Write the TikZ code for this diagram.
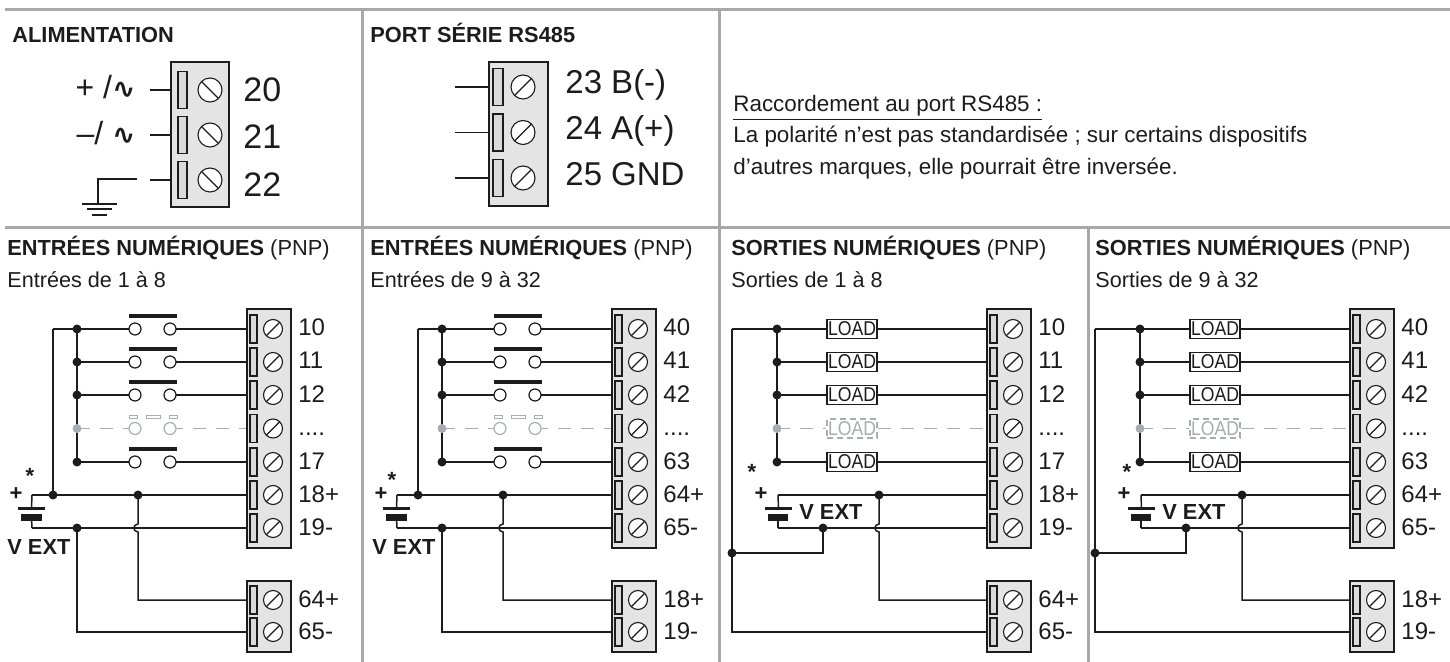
\documentclass[tikz,border=0pt]{standalone}
\usepackage{fontspec}
\setmainfont{Liberation Sans}
\newfontfamily\dejavu{DejaVu Sans}
\usetikzlibrary{backgrounds}
\definecolor{wire}{HTML}{1C1C1C}
\definecolor{framec}{HTML}{A8A8A8}
\definecolor{ghost}{HTML}{A9ADB1}
\definecolor{blockfill}{HTML}{E4E4E4}
\definecolor{slotfill}{HTML}{DADADA}
\tikzset{
  wireline/.style={draw=wire, line width=0.75pt},
  ghostline/.style={draw=ghost, line width=0.75pt, dash pattern=on 6.5pt off 5pt},
  framel/.style={draw=framec, line width=1.5pt},
  blk/.style={draw=wire, fill=blockfill, line width=0.7pt},
  tslot/.style={draw=wire, fill=slotfill, line width=0.55pt},
  screwc/.style={draw=wire, fill=white, line width=0.55pt},
  screwl/.style={draw=wire, line width=0.55pt},
  swbar/.style={draw=wire, line width=2pt},
  gbar/.style={draw=ghost, line width=0.5pt},
  contact/.style={circle, draw=wire, fill=white, line width=0.6pt, minimum size=6pt, inner sep=0pt},
  gcontact/.style={contact, draw=ghost},
  jdot/.style={circle, fill=wire, minimum size=4.5pt, inner sep=0pt},
  gdot/.style={jdot, fill=ghost},
  loadbox/.style={draw=wire, fill=white, line width=0.6pt, minimum width=25pt, minimum height=9.5pt, inner sep=0pt, text=wire, font=\fontsize{10}{10}\selectfont},
  gload/.style={loadbox, draw=ghost, text=ghost, dash pattern=on 3pt off 2pt},
  batplate/.style={fill=wire, inner sep=0pt, outer sep=0pt},
  hdr/.style={font=\fontsize{10.9}{12}\selectfont\bfseries, anchor=base west, inner sep=0pt, text=wire},
  txt/.style={font=\fontsize{10.8}{12}\selectfont, anchor=base west, inner sep=0pt, text=wire},
  note/.style={font=\fontsize{11.2}{12}\selectfont, anchor=base west, inner sep=0pt, text=wire},
  tlab/.style={font=\fontsize{12}{12}\selectfont, anchor=base west, inner sep=0pt, text=wire},
  biglab/.style={font=\fontsize{17}{18}\selectfont, anchor=base west, inner sep=0pt, text=wire},
  midlab/.style={font=\fontsize{16.5}{18}\selectfont, anchor=base west, inner sep=0pt, text=wire},
  acl/.style={font=\fontsize{16}{18}\selectfont, anchor=base east, inner sep=0pt, text=wire},
  symtxt/.style={font=\fontsize{11}{12}\selectfont\bfseries, inner sep=0pt, text=wire},
}
\newcommand\ld{\scalebox{0.88}[1]{LOAD}}
\newcommand\trow[4]{%
  \draw[tslot] (#2+3,#3-14) rectangle (#2+10,#3+14);
  \draw[screwc] (#2+26,#3) circle[radius=9.5];
  \draw[screwl] (#2+19.3,#3+6.7) -- (#2+32.7,#3-6.7);
  \coordinate (#1) at (#2,#3);
  \node[tlab] (#1l) at (#2+51,#3+7) {#4};
}
\newcommand\inpanel[9]{%
  \draw[blk] (247,309) rectangle (291,548);
  \trow{t1}{247}{329}{#1}
  \trow{t2}{247}{362}{#2}
  \trow{t3}{247}{395}{#3}
  \trow{t4}{247}{428.5}{....}
  \trow{t5}{247}{462}{#4}
  \trow{t6}{247}{495}{#5}
  \trow{t7}{247}{528}{#6}
  \draw[blk] (247,581) rectangle (291,652);
  \trow{u1}{247}{600}{#7}
  \trow{u2}{247}{632}{#8}
  \foreach \n/\yy in {1/329,2/362,3/395,5/462}{%
    \draw[swbar] (129,\yy-13) -- (177,\yy-13);
    \node[contact] (sa\n) at (135,\yy) {};
    \node[contact] (sb\n) at (170,\yy) {};
    \node[jdot] (d\n) at (77,\yy) {};
  }
  \foreach \xa/\xb in {129/137,146/160,169/177}{\draw[gbar] (\xa,415) rectangle (\xb,418);}
  \node[gcontact] (sa4) at (135,428.5) {};
  \node[gcontact] (sb4) at (170,428.5) {};
  \node[gdot] (d4) at (77,428.5) {};
  \coordinate (b1) at (53,329);
  \node[jdot] (db) at (53,495) {};
  \node[jdot] (dj) at (138,495) {};
  \node[jdot] (dm) at (77,528) {};
  \coordinate (bp) at (32,495);
  \coordinate (bm) at (32,528);
  \node[batplate, minimum width=13.5pt, minimum height=1.5pt] (pl1) at (31.5,508) {};
  \node[batplate, minimum width=10.5pt, minimum height=3.5pt] (pl2) at (31.5,517.5) {};
  \node[symtxt] (plus) at (16,494) {+};
  \node[symtxt] (star) at (#9) {*};
  \node[hdr] (vext) at (7,554) {V EXT};
  \begin{scope}[on background layer]
    \foreach \n in {1,2,3,5}{\draw[wireline] (d\n.center) -- (sa\n.center); \draw[wireline] (sb\n.center) -- (t\n);}
    \draw[ghostline] (d4.center) -- (sa4.center);
    \draw[ghostline] (sb4.center) -- (t4);
    \draw[wireline] (b1) -- (d1.center);
    \draw[wireline] (d1.center) -- (d5.center);
    \draw[wireline] (b1) -- (db.center);
    \draw[wireline] (bp) -- (t6);
    \draw[wireline] (bm) -- (t7);
    \draw[wireline] (bp) -- (pl1.center);
    \draw[wireline] (pl2.center) -- (bm);
    \draw[wireline] (dj.center) -- (138,524) .. controls (132.5,524.5) and (132.5,531.5) .. (138,532) -- (dj.center |- u1) -- (u1);
    \draw[wireline] (dm.center) -- (dm.center |- u2) -- (u2);
  \end{scope}
}
\newcommand\outpanel[9]{%
  \draw[blk] (987,309) rectangle (1031,548);
  \trow{t1}{987}{329}{#1}
  \trow{t2}{987}{362}{#2}
  \trow{t3}{987}{395}{#3}
  \trow{t4}{987}{428.5}{....}
  \trow{t5}{987}{462}{#4}
  \trow{t6}{987}{495}{#5}
  \trow{t7}{987}{528}{#6}
  \draw[blk] (987,581) rectangle (1031,652);
  \trow{u1}{987}{600}{#7}
  \trow{u2}{987}{632}{#8}
  \foreach \n/\yy in {1/329,2/362,3/395,5/462}{%
    \node[loadbox] (l\n) at (852,\yy) {\ld};
    \node[jdot] (d\n) at (777,\yy) {};
  }
  \node[gload] (l4) at (852,428.5) {\ld};
  \node[gdot] (d4) at (777,428.5) {};
  \coordinate (b1) at (732,329);
  \node[jdot] (dk) at (732,553) {};
  \node[jdot] (dj) at (879,495) {};
  \node[jdot] (dm) at (823,528) {};
  \coordinate (bp) at (778,495);
  \coordinate (bm) at (778,528);
  \node[batplate, minimum width=13.5pt, minimum height=1.5pt] (pl1) at (778.5,508.5) {};
  \node[batplate, minimum width=10pt, minimum height=3.5pt] (pl2) at (778,517.5) {};
  \node[symtxt] (plus) at (761,494) {+};
  \node[symtxt] (star) at (#9) {*};
  \node[hdr] (vext) at (799,519) {V EXT};
  \begin{scope}[on background layer]
    \foreach \n in {1,2,3,5}{\draw[wireline] (d\n.center) -- (l\n.center); \draw[wireline] (l\n.center) -- (t\n);}
    \draw[ghostline] (d4.center) -- (l4);
    \draw[ghostline] (l4) -- (t4);
    \draw[wireline] (b1) -- (l1.center);
    \draw[wireline] (d1.center) -- (d5.center);
    \draw[wireline] (b1) -- (b1 |- u2) -- (u2);
    \draw[wireline] (bp) -- (t6);
    \draw[wireline] (bm) -- (t7);
    \draw[wireline] (bp) -- (pl1.center);
    \draw[wireline] (pl2.center) -- (bm);
    \draw[wireline] (dj.center) -- (879,524) .. controls (873.5,524.5) and (873.5,531.5) .. (879,532) -- (dj.center |- u1) -- (u1);
    \draw[wireline] (dm.center) -- (dm.center |- dk) -- (dk.center);
  \end{scope}
}
\begin{document}
\begin{tikzpicture}[x=0.5pt, y=-0.5pt]
\useasboundingbox (0,0) rectangle (1450,662);
% frame
\draw[framel] (5,10) -- (1450,10);
\draw[framel] (5,228) -- (1450,228);
\draw[framel] (362,10) -- (362,662);
\draw[framel] (719,10) -- (719,662);
\draw[framel] (1088,228) -- (1088,662);
% ALIMENTATION
\node[hdr] (alim) at (12,43) {ALIMENTATION};
\draw[blk] (171,62) rectangle (229,207);
\foreach \n/\yy in {1/90,2/135,3/180}{%
  \draw[tslot] (178,\yy-18.5) rectangle (187,\yy+18.5);
  \draw[screwc] (210,\yy) circle[radius=12];
  \draw[screwl] (201.5,\yy-8.5) -- (218.5,\yy+8.5);
  \coordinate (a\n) at (171,\yy);
  \coordinate (aw\n) at (150,\yy);
}
\draw[wireline] (aw1) -- (a1);
\draw[wireline] (aw2) -- (a2);
\draw[wireline] (aw3) -- (a3);
\node[biglab] (l20) at (243,102) {20};
\node[biglab] (l21) at (243,149) {21};
\node[biglab] (l22) at (243,197) {22};
\node[acl] (acp) at (136,99) {+ /{\dejavu\bfseries\fontsize{14}{16}\selectfont ∿}};
\node[acl] (acm) at (136,145) {–/ {\dejavu\bfseries\fontsize{14}{16}\selectfont ∿}};
\coordinate (g0) at (137,179);
\coordinate (g1) at (98,179);
\coordinate (g2) at (98,204);
\draw[wireline] (g0) -- (g1) -- (g2);
\draw[draw=wire, line width=1pt] (82,204) -- (117,204);
\draw[draw=wire, line width=1pt] (87,209.5) -- (112,209.5);
\draw[draw=wire, line width=1pt] (92,215) -- (107,215);
% RS485
\node[hdr] (port) at (370,43) {PORT SÉRIE RS485};
\draw[blk] (489,62) rectangle (548,206);
\foreach \n/\yy in {1/87,2/132.5,3/178}{%
  \draw[tslot] (493,\yy-18.5) rectangle (503,\yy+18.5);
  \draw[screwc] (523,\yy) circle[radius=12];
  \draw[screwl] (514.5,\yy+8.5) -- (531.5,\yy-8.5);
  \coordinate (r\n) at (489,\yy);
  \coordinate (rw\n) at (455,\yy);
}
\draw[wireline] (rw1) -- (r1);
\draw[wireline] (rw2) -- (r2);
\draw[wireline] (rw3) -- (r3);
\node[midlab] (l23) at (565,94) {23 B(-)};
\node[midlab] (l24) at (565,140) {24 A(+)};
\node[midlab] (l25) at (565,186) {25 GND};
% note
\node[note] (n1) at (733,112) {\underline{Raccordement au port RS485 :}};
\node[note] (n2) at (733,143) {La polarité n’est pas standardisée ; sur certains dispositifs};
\node[note] (n3) at (733,175) {d’autres marques, elle pourrait être inversée.};
% headers
\node[hdr] (h1) at (7,256) {ENTRÉES NUMÉRIQUES {\mdseries (PNP)}};
\node[txt] (s1) at (7,288) {Entrées de 1 à 8};
\node[hdr] (h2) at (370,256) {ENTRÉES NUMÉRIQUES {\mdseries (PNP)}};
\node[txt] (s2) at (370,288) {Entrées de 9 à 32};
\node[hdr] (h3) at (731,256) {SORTIES NUMÉRIQUES {\mdseries (PNP)}};
\node[txt] (s3) at (731,288) {Sorties de 1 à 8};
\node[hdr] (h4) at (1095,256) {SORTIES NUMÉRIQUES {\mdseries (PNP)}};
\node[txt] (s4) at (1095,288) {Sorties de 9 à 32};
% panels
\begin{scope}[name prefix=p1-]
  \inpanel{10}{11}{12}{17}{18+}{19-}{64+}{65-}{30,476}
\end{scope}
\begin{scope}[xshift=182.5pt, name prefix=p2-]
  \inpanel{40}{41}{42}{63}{64+}{65-}{18+}{19-}{27,480}
\end{scope}
\begin{scope}[name prefix=p3-]
  \outpanel{10}{11}{12}{17}{18+}{19-}{64+}{65-}{752,472}
\end{scope}
\begin{scope}[xshift=181.5pt, name prefix=p4-]
  \outpanel{40}{41}{42}{63}{64+}{65-}{18+}{19-}{764,472}
\end{scope}
\end{tikzpicture}
\end{document}
